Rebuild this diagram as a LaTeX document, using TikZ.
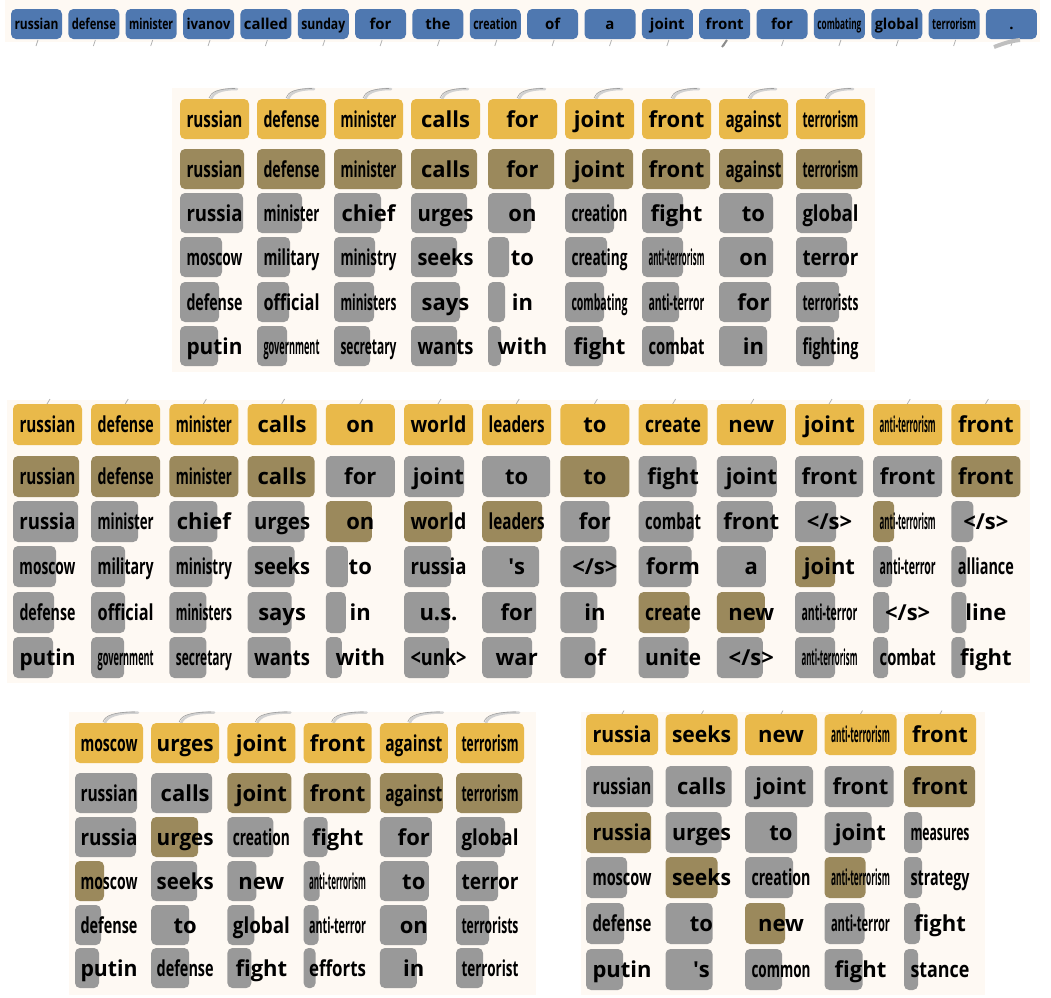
\documentclass[tikz,border=0pt]{standalone}
\usepackage{fontspec}
\setmainfont{Open Sans}
\usepackage{graphicx}

\definecolor{src}{RGB}{79,120,176}
\definecolor{yel}{RGB}{233,185,74}
\definecolor{olv}{RGB}{155,137,92}
\definecolor{gry}{RGB}{153,153,153}
\definecolor{panelbg}{RGB}{254,249,243}

\newlength\fitmax
\newcommand\fitword[1]{\sbox0{#1}\ifdim\wd0>\fitmax\resizebox{\fitmax}{\height}{#1}\else#1\fi}

% one cell: name, left, top, bar width, colour, word
\newcommand\tokcell[6]{%
  \fill[#5, rounded corners=5pt] (#2,#3) rectangle ++(#4,\cellh);
  \node[word] (#1) at ({#2+\cellw/2},{#3+\cellh/2+\baseoff}) {\fitword{#6}};%
}

\begin{document}
\begin{tikzpicture}[x=1pt, y=-1pt,
  word/.style={anchor=base, inner sep=0pt, font=\bfseries\fontsize{22pt}{24pt}\selectfont},
  srcword/.style={anchor=base, inner sep=0pt, font=\bfseries\fontsize{15pt}{17pt}\selectfont},
  panel/.style={fill=panelbg},
  swoosh/.style={draw=black!18, line width=2.5pt, line cap=round},
  swooshedge/.style={draw=black!38, line width=0.6pt},
  stub/.style={draw=black!30, line width=0.8pt}
]
\useasboundingbox (0,0) rectangle (1051,997);

% source sentence
\fill[panel] (5,0) rectangle (1040,42);
\setlength\fitmax{44pt}
\foreach \tw [count=\ci from 0] in {russian,defense,minister,ivanov,called,sunday,for,the,creation,of,a,joint,front,for,combating,global,terrorism,{.}}
  {\fill[src, rounded corners=5pt] (11+57.35*\ci,9) rectangle ++(51,30);
   \node[srcword] (s\ci) at ({11+57.35*\ci+25.5},29.5) {\fitword{\tw}};
   \draw[stub] ({11+57.35*\ci+27},40) -- ({11+57.35*\ci+25},46);}
\draw[black!45, line width=2pt] (722,47) -- (727,40);
\draw[black!25, line width=4pt] (994,47) .. controls (1002,44) and (1010,41) .. (1020,40);

% panel 1
\def\cellw{69}\def\cellh{40}\def\baseoff{8}
\setlength\fitmax{56pt}
\fill[panel] (172,88) rectangle (875,372);
\foreach \tw [count=\ci from 0] in {russian,defense,minister,calls,for,joint,front,against,terrorism}
  {\draw[swoosh] (180+77*\ci+31,99) .. controls (180+77*\ci+33,93) and (180+77*\ci+40,89) .. (180+77*\ci+57,89);
   \draw[swooshedge] (180+77*\ci+29,98) .. controls (180+77*\ci+31,92) and (180+77*\ci+38,88.5) .. (180+77*\ci+55,88.5);
   \tokcell{p1r0c\ci}{180+77*\ci}{99}{69}{yel}{\tw}}
\foreach \tw/\bw [count=\ci from 0] in {russian/64,defense/68,minister/68,calls/66,for/66,joint/68,front/68,against/64,terrorism/66}
  {\tokcell{p1r1c\ci}{180+77*\ci}{149}{\bw}{olv}{\tw}}
\foreach \tw/\bw [count=\ci from 0] in {russia/63,minister/45,chief/47,urges/56,on/43,creation/49,fight/41,to/54,global/56}
  {\tokcell{p1r2c\ci}{180+77*\ci}{193}{\bw}{gry}{\tw}}
\foreach \tw/\bw [count=\ci from 0] in {moscow/42,military/33,ministry/41,seeks/46,to/21,creating/42,anti-terrorism/41,on/54,terror/51}
  {\tokcell{p1r3c\ci}{180+77*\ci}{237}{\bw}{gry}{\tw}}
\foreach \tw/\bw [count=\ci from 0] in {defense/39,official/32,ministers/40,says/49,in/17,combating/39,anti-terror/37,for/52,terrorists/43}
  {\tokcell{p1r4c\ci}{180+77*\ci}{282}{\bw}{gry}{\tw}}
\foreach \tw/\bw [count=\ci from 0] in {putin/38,government/30,secretary/36,wants/46,with/13,fight/38,combat/32,in/48,fighting/38}
  {\tokcell{p1r5c\ci}{180+77*\ci}{326}{\bw}{gry}{\tw}}

% panel 2
\def\cellw{69}\def\cellh{41}\def\baseoff{8}
\fill[panel] (7,400) rectangle (1030,683);
\foreach \tw [count=\ci from 0] in {russian,defense,minister,calls,on,world,leaders,to,create,new,joint,anti-terrorism,front}
  {\draw[stub] ({13+78.2*\ci+34},404) -- ({13+78.2*\ci+37},399);
   \tokcell{p2r0c\ci}{13+78.2*\ci}{404}{69}{yel}{\tw}}
\foreach \tw/\bw/\tc [count=\ci from 0] in {russian/66/olv,defense/69/olv,minister/69/olv,calls/67/olv,for/69/gry,joint/60/gry,to/68/gry,to/69/olv,fight/58/gry,joint/60/gry,front/68/gry,front/69/gry,front/69/olv}
  {\tokcell{p2r1c\ci}{13+78.2*\ci}{456}{\bw}{\tc}{\tw}}
\foreach \tw/\bw/\tc [count=\ci from 0] in {russia/65/gry,minister/47/gry,chief/48/gry,urges/57/gry,on/46/olv,world/48/olv,leaders/60/olv,for/49/gry,combat/55/gry,front/56/gry,{</s>}/41/gry,anti-terrorism/21/olv,{</s>}/22/gry}
  {\tokcell{p2r2c\ci}{13+78.2*\ci}{501}{\bw}{\tc}{\tw}}
\foreach \tw/\bw/\tc [count=\ci from 0] in {moscow/43/gry,military/34/gry,ministry/43/gry,seeks/47/gry,to/22/gry,russia/47/gry,{\textquotesingle s}/57/gry,{</s>}/56/gry,form/53/gry,a/49/gry,joint/40/olv,anti-terror/19/gry,alliance/15/gry}
  {\tokcell{p2r3c\ci}{13+78.2*\ci}{546}{\bw}{\tc}{\tw}}
\foreach \tw/\bw/\tc [count=\ci from 0] in {defense/41/gry,official/34/gry,ministers/37/gry,says/44/gry,in/20/gry,u.s./45/gry,for/54/gry,in/37/gry,create/51/olv,new/48/olv,anti-terror/40/gry,{</s>}/16/gry,line/15/gry}
  {\tokcell{p2r4c\ci}{13+78.2*\ci}{592}{\bw}{\tc}{\tw}}
\foreach \tw/\bw [count=\ci from 0] in {putin/40,government/33,secretary/37,wants/43,with/16,{<unk>}/45,war/50,of/35,unite/50,{</s>}/46,anti-terrorism/40,combat/15,fight/14}
  {\tokcell{p2r5c\ci}{13+78.2*\ci}{637}{\bw}{gry}{\tw}}

% panel 3
\def\cellw{68}\def\cellh{40}\def\baseoff{8}
\setlength\fitmax{57pt}
\fill[panel] (69,712) rectangle (536,995);
\foreach \tw [count=\ci from 0] in {moscow,urges,joint,front,against,terrorism}
  {\draw[swoosh] (75+76.2*\ci+30,723) .. controls (75+76.2*\ci+32,716) and (75+76.2*\ci+42,712.5) .. (75+76.2*\ci+63,712.5);
   \draw[swooshedge] (75+76.2*\ci+28,722) .. controls (75+76.2*\ci+30,715) and (75+76.2*\ci+40,712) .. (75+76.2*\ci+60,712);
   \tokcell{p3r0c\ci}{75+76.2*\ci}{723}{68}{yel}{\tw}}
\foreach \tw/\bw/\tc [count=\ci from 0] in {russian/62/gry,calls/61/gry,joint/64/olv,front/67/olv,against/63/olv,terrorism/66/olv}
  {\tokcell{p3r1c\ci}{75+76.2*\ci}{773}{\bw}{\tc}{\tw}}
\foreach \tw/\bw/\tc [count=\ci from 0] in {russia/61/gry,urges/47/olv,creation/46/gry,fight/24/gry,for/52/gry,global/49/gry}
  {\tokcell{p3r2c\ci}{75+76.2*\ci}{817}{\bw}{\tc}{\tw}}
\foreach \tw/\bw/\tc [count=\ci from 0] in {moscow/29/olv,seeks/46/gry,new/29/gry,anti-terrorism/16/gry,to/49/gry,terror/42/gry}
  {\tokcell{p3r3c\ci}{75+76.2*\ci}{861}{\bw}{\tc}{\tw}}
\foreach \tw/\bw [count=\ci from 0] in {defense/26,to/38,global/27,anti-terror/15,on/47,terrorists/33}
  {\tokcell{p3r4c\ci}{75+76.2*\ci}{905}{\bw}{gry}{\tw}}
\foreach \tw/\bw [count=\ci from 0] in {putin/24,defense/38,fight/24,efforts/12,in/37,terrorist/27}
  {\tokcell{p3r5c\ci}{75+76.2*\ci}{948}{\bw}{gry}{\tw}}

% panel 4
\def\cellw{72}\def\cellh{41}\def\baseoff{8}
\setlength\fitmax{59pt}
\fill[panel] (581,712) rectangle (985,995);
\foreach \tw [count=\ci from 0] in {russia,seeks,new,anti-terrorism,front}
  {\draw[stub] ({586+79.5*\ci+36},714) -- ({586+79.5*\ci+38},710.5);
   \tokcell{p4r0c\ci}{586+79.5*\ci}{714}{72}{yel}{\tw}}
\foreach \tw/\bw/\tc [count=\ci from 0] in {russian/67/gry,calls/66/gry,joint/68/gry,front/69/gry,front/71/olv}
  {\tokcell{p4r1c\ci}{586+79.5*\ci}{766}{\bw}{\tc}{\tw}}
\foreach \tw/\bw/\tc [count=\ci from 0] in {russia/65/olv,urges/56/gry,to/52/gry,joint/47/gry,measures/18/gry}
  {\tokcell{p4r2c\ci}{586+79.5*\ci}{812}{\bw}{\tc}{\tw}}
\foreach \tw/\bw/\tc [count=\ci from 0] in {moscow/41/gry,seeks/52/olv,creation/48/gry,anti-terrorism/41/olv,strategy/18/gry}
  {\tokcell{p4r3c\ci}{586+79.5*\ci}{857}{\bw}{\tc}{\tw}}
\foreach \tw/\bw/\tc [count=\ci from 0] in {defense/38/gry,to/47/gry,new/40/olv,anti-terror/40/gry,fight/16/gry}
  {\tokcell{p4r4c\ci}{586+79.5*\ci}{903}{\bw}{\tc}{\tw}}
\foreach \tw/\bw [count=\ci from 0] in {putin/37,{\textquotesingle s}/47,common/37,fight/38,stance/14}
  {\tokcell{p4r5c\ci}{586+79.5*\ci}{949}{\bw}{gry}{\tw}}

\end{tikzpicture}
\end{document}
